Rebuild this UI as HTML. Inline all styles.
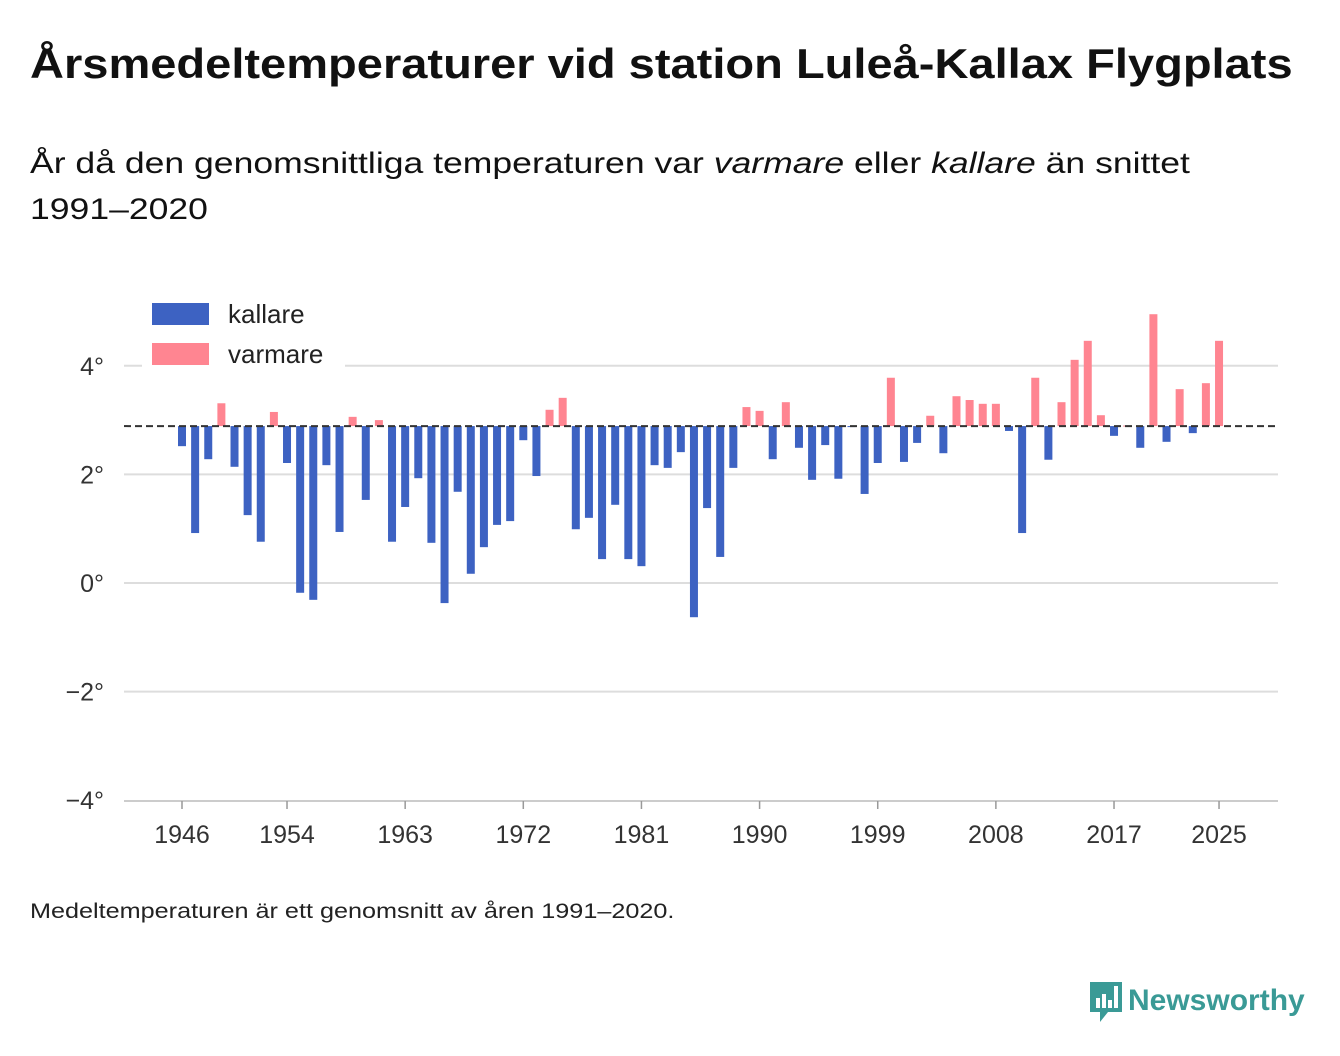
<!DOCTYPE html>
<html><head><meta charset="utf-8"><style>
body{margin:0;width:1340px;height:1056px;background:#fff;font-family:"Liberation Sans","DejaVu Sans",sans-serif;color:#111;position:relative;overflow:hidden}
.t{position:absolute;white-space:nowrap;transform-origin:0 0}
</style></head><body>
<div class="t" style="left:30px;top:40px;font-size:42px;font-weight:bold;transform:scaleX(1.12)">Årsmedeltemperaturer vid station Luleå-Kallax Flygplats</div>
<div class="t" style="left:30px;top:141px;font-size:30px;line-height:46px;transform:scaleX(1.185)">År då den genomsnittliga temperaturen var <i>varmare</i> eller <i>kallare</i> än snittet<br>1991–2020</div>
<svg id="chart" width="1340" height="1056" style="position:absolute;left:0;top:0"></svg>
<div class="t" style="left:30px;top:900px;font-size:21px;color:#222;transform:scaleX(1.2)">Medeltemperaturen är ett genomsnitt av åren 1991–2020.</div>
<div class="t" style="left:1088px;top:980px;font-size:30px;font-weight:bold;color:#3a9a96">
<svg width="36" height="44" viewBox="0 0 36 44" style="vertical-align:middle;margin-right:4px"><path d="M2 2h32v30H20l-8 10v-10H2z" fill="#3a9a96"/><rect x="8" y="18" width="4" height="10" fill="#fff"/><rect x="14" y="14" width="4" height="14" fill="#fff"/><rect x="20" y="20" width="4" height="8" fill="#fff"/><rect x="26" y="6" width="4" height="22" fill="#fff"/></svg>Newsworthy</div>
<script>
const years=[];for(let y=1946;y<=2025;y++)years.push(y);
const values=[2.52,0.92,2.28,3.31,2.14,1.25,0.76,3.15,2.21,-0.18,-0.31,2.17,0.94,3.06,1.53,3.0,0.76,1.40,1.93,0.74,-0.37,1.68,0.17,0.66,1.07,1.14,2.63,1.97,3.19,3.41,0.99,1.2,0.44,1.44,0.44,0.31,2.17,2.12,2.41,-0.63,1.38,0.48,2.12,3.24,3.17,2.28,3.33,2.49,1.9,2.54,1.92,2.88,1.64,2.21,3.78,2.23,2.58,3.08,2.39,3.44,3.37,3.3,3.3,2.8,0.92,3.78,2.27,3.33,4.11,4.46,3.09,2.71,2.9,2.49,4.95,2.6,3.57,2.76,3.68,4.46];
const baseline=2.89;
const yTicks=[4,2,0,-2,-4];
const yTickLabels=["4°","2°","0°","−2°","−4°"];
const xTicks=[1946,1954,1963,1972,1981,1990,1999,2008,2017,2025];
const NS="http://www.w3.org/2000/svg";
const svg=document.getElementById('chart');
const yS=v=>583-v*54.3;
const xS=y=>182+(y-1946)*13.127;
function mk(t,a){const e=document.createElementNS(NS,t);for(const k in a)e.setAttribute(k,a[k]);svg.appendChild(e);return e;}
yTicks.forEach((v,i)=>{
 if(v>-4){const g=mk('line',{x1:124,x2:1278,y1:yS(v),y2:yS(v),stroke:'#ddd','stroke-width':2});
 
 }
 const t=mk('text',{x:104,y:yS(v)+9,'text-anchor':'end','font-size':25,fill:'#333','font-family':'Liberation Sans, sans-serif'});
 t.textContent=yTickLabels[i];
 
 
});
const ax=mk('line',{x1:124,x2:1278,y1:801,y2:801,stroke:'#ccc','stroke-width':2});


xTicks.forEach(y=>{
 const tk=mk('line',{x1:xS(y),x2:xS(y),y1:801,y2:809,stroke:'#999','stroke-width':1.5});
 
 
 const t=mk('text',{x:xS(y),y:843,'text-anchor':'middle','font-size':25,fill:'#333','font-family':'Liberation Sans, sans-serif'});
 t.textContent=y;
 
 
});
values.forEach((v,i)=>{
 const y0=yS(baseline),y1=yS(v);
 const r=mk('rect',{x:xS(years[i])-4,y:Math.min(y0,y1),width:8,height:Math.max(1,Math.abs(y1-y0)),fill:v>=baseline?'#ff8591':'#3d62c2'});
 
 
});
const bl=mk('line',{x1:124,x2:1278,y1:yS(baseline),y2:yS(baseline),stroke:'#333','stroke-width':2,'stroke-dasharray':'7,4'});


const lb=mk('rect',{x:142,y:292,width:203,height:76,fill:'#fff'});


[['kallare','#3d62c2',303],['varmare','#ff8591',343]].forEach(([n,c,y])=>{
 const s=mk('rect',{x:152,y:y,width:57,height:22,fill:c});
 
 
 const t=mk('text',{x:228,y:y+20,'font-size':26,fill:'#222','font-family':'Liberation Sans, sans-serif'});
 t.textContent=n;
 
 
});
</script>
</body></html>
